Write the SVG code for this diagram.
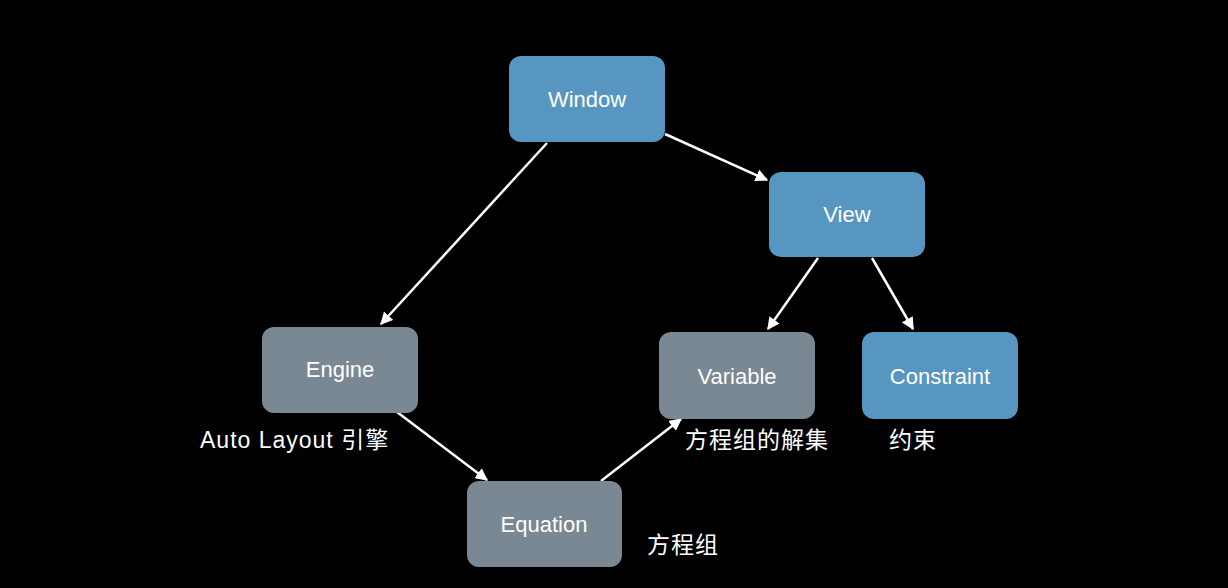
<svg xmlns="http://www.w3.org/2000/svg" width="1228" height="588" viewBox="0 0 1228 588">
<style>
.blue{fill:#5796c1}
.gray{fill:#7a8893}
.lbl{fill:#ffffff;font-family:"Liberation Sans","Noto Sans",Arial,sans-serif;font-size:22px;text-anchor:middle}
.cap{fill:#ffffff;font-family:"Liberation Sans","Noto Sans CJK SC",sans-serif;font-size:23px;letter-spacing:1px}
.edge{stroke:#ffffff;stroke-width:2.5;fill:none;marker-end:url(#ah)}
</style>
<defs>
<marker id="ah" viewBox="0 0 10 10" refX="9" refY="5" markerWidth="5" markerHeight="5" orient="auto" markerUnits="strokeWidth">
<path d="M0,0 L10,5 L0,10 z" fill="#ffffff"/>
</marker>
</defs>
<rect width="1228" height="588" fill="#000000"/>
<g id="connectors">
<line class="edge" x1="547" y1="143" x2="381" y2="324"/>
<line class="edge" x1="665" y1="134" x2="767" y2="180"/>
<line class="edge" x1="818" y1="258" x2="768" y2="329"/>
<line class="edge" x1="872" y1="258" x2="913" y2="329"/>
<line class="edge" x1="397" y1="412" x2="487" y2="480"/>
<line class="edge" x1="601" y1="481" x2="681" y2="419"/>
</g>
<g id="window">
<rect class="blue" x="509" y="56" width="156" height="86" rx="12"/>
<text class="lbl" x="587" y="107">Window</text>
</g>
<g id="view">
<rect class="blue" x="769" y="172" width="156" height="85" rx="12"/>
<text class="lbl" x="847" y="222">View</text>
</g>
<g id="engine">
<rect class="gray" x="262" y="327" width="156" height="86" rx="12"/>
<text class="lbl" x="340" y="377">Engine</text>
<text class="cap" x="200" y="448">Auto Layout 引擎</text>
</g>
<g id="equation">
<rect class="gray" x="467" y="481" width="155" height="86" rx="12"/>
<text class="lbl" x="544" y="532">Equation</text>
<text class="cap" x="647" y="553">方程组</text>
</g>
<g id="variable">
<rect class="gray" x="659" y="332" width="156" height="87" rx="12"/>
<text class="lbl" x="737" y="384">Variable</text>
<text class="cap" x="685" y="448">方程组的解集</text>
</g>
<g id="constraint">
<rect class="blue" x="862" y="332" width="156" height="87" rx="12"/>
<text class="lbl" x="940" y="384">Constraint</text>
<text class="cap" x="889" y="448">约束</text>
</g>
</svg>
